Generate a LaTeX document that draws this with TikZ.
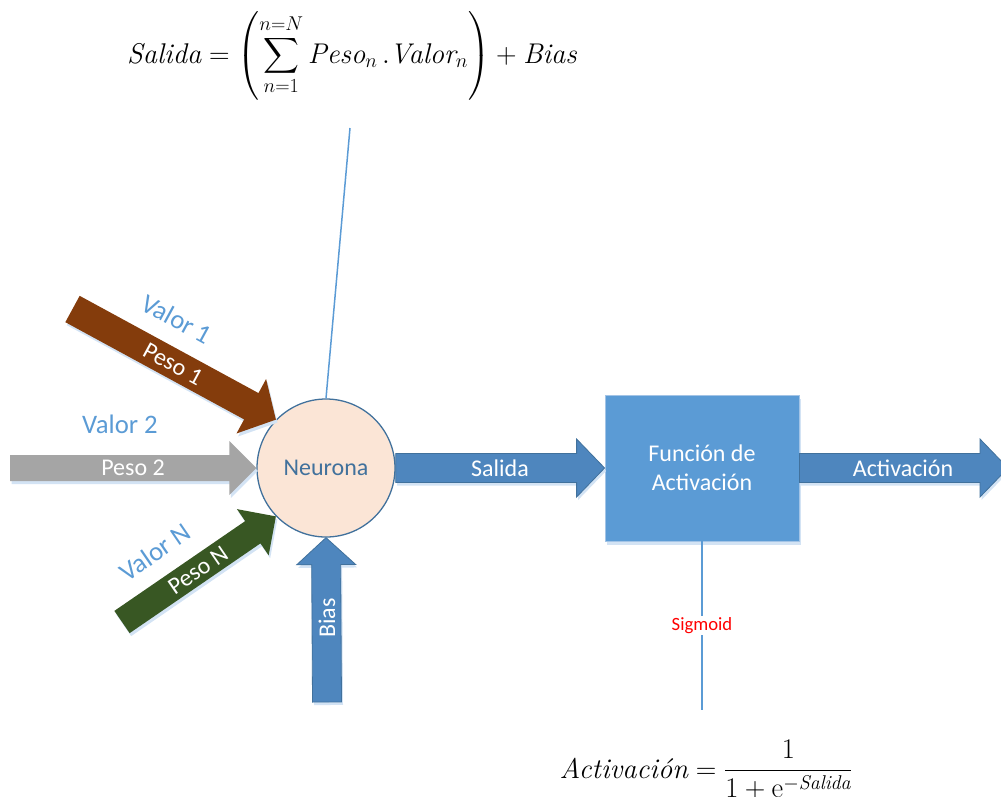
\RequirePackage{fix-cm}
\documentclass[tikz,border=0pt]{standalone}
\usepackage{amsmath}
\usepackage{fontspec}
\newfontfamily\calibri{Carlito}
\usetikzlibrary{calc,shadows}

\definecolor{brownarrow}{HTML}{843C0C}
\definecolor{grayarrow}{HTML}{A5A5A5}
\definecolor{greenarrow}{HTML}{385723}
\definecolor{bluearrow}{HTML}{4E86BE}
\definecolor{blueedge}{HTML}{41719C}
\definecolor{boxblue}{HTML}{5B9BD5}
\definecolor{boxedge}{HTML}{A3C4E6}
\definecolor{somafill}{HTML}{FBE5D6}
\definecolor{labelblue}{HTML}{5B9BD5}
\definecolor{shadowblue}{HTML}{D3E3F4}
\definecolor{sigred}{HTML}{FF0000}

% Block arrow: [style]{tail}{tip}{shaft half-width}{head half-width}{head length}
\newcommand\fatarrow[6][]{%
  \coordinate (fa-c) at ($(#3)!#6!(#2)$);
  \begin{scope}[transform canvas={shift={(1.5pt,-3pt)}}]
    \fill[shadowblue] ($(#2)!#4!90:(#3)$) -- ($(fa-c)!#4!90:(#3)$) -- ($(fa-c)!#5!90:(#3)$) -- (#3)
      -- ($(fa-c)!#5!-90:(#3)$) -- ($(fa-c)!#4!-90:(#3)$) -- ($(#2)!#4!-90:(#3)$) -- cycle;
  \end{scope}
  \path[#1] ($(#2)!#4!90:(#3)$) -- ($(fa-c)!#4!90:(#3)$) -- ($(fa-c)!#5!90:(#3)$) -- (#3)
      -- ($(fa-c)!#5!-90:(#3)$) -- ($(fa-c)!#4!-90:(#3)$) -- ($(#2)!#4!-90:(#3)$) -- cycle;
}

\begin{document}
\begin{tikzpicture}[x=1pt, y=1pt,
  soma/.style={circle, minimum size=138pt, inner sep=0pt, fill=somafill, draw=blueedge,
    line width=1.3pt, text=blueedge, font=\calibri\fontsize{24}{29}\selectfont},
  actbox/.style={rectangle, minimum width=194pt, minimum height=146pt, inner sep=0pt,
    fill=boxblue, draw=boxedge, line width=0.8pt, text=white, align=center,
    font=\calibri\fontsize{24}{29}\selectfont,
    drop shadow={shadow xshift=1.5pt, shadow yshift=-3.5pt, fill=shadowblue, opacity=1}},
  valor/.style={text=labelblue, inner sep=0pt, font=\calibri\fontsize{26.7}{32}\selectfont},
  peso/.style={text=white, inner sep=0pt, font=\calibri\fontsize{24}{29}\selectfont},
  guide/.style={draw=boxblue, line width=1.5pt},
  formula/.style={inner sep=0pt, font=\fontsize{28.5}{34}\selectfont},
  bluebody/.style={fill=bluearrow, draw=blueedge, line width=0.8pt},
]
\useasboundingbox (0,0) rectangle (1001,-796);

% formulas
\node[formula, anchor=base] (fsum) at (352,-63)
  {$\displaystyle \textit{Salida} = \Biggl(\sum_{n=1}^{n=N} \textit{Peso}_n\,.\textit{Valor}_n\Biggr) + \textit{Bias}$};
\node[formula, anchor=base] (fsig) at (706,-778)
  {$\textit{Activación} = \dfrac{1}{1+\mathrm{e}^{-\textit{Salida}}}$};

% neuron and activation block
\node[soma] (n) at (326,-468) {Neurona};
\node[actbox] (act) at (702,-468) {Función de\\Activación};

% guide lines
\coordinate (fsumfoot) at (350,-128);
\draw[guide] (fsumfoot) -- (n.north);
\coordinate (sigfoot) at (702,-710);
\draw[guide] (act.south) -- (sigfoot)
  node[pos=0.5, fill=white, inner sep=1.5pt, text=sigred, font=\calibri\fontsize{18.7}{22}\selectfont] (sig) {Sigmoid};

% input arrows
\coordinate (t1) at (72.5,-309);
\coordinate (t2) at (10,-468);
\coordinate (tN) at (122,-622);
\coordinate (tb) at (327,-702);
\coordinate (aend) at (1008,-468);

\fatarrow[fill=brownarrow]{t1}{n.136}{15pt}{31pt}{28pt}
\fatarrow[fill=grayarrow]{t2}{n.west}{13pt}{27pt}{27pt}
\fatarrow[fill=greenarrow]{tN}{n.224}{13.5pt}{28pt}{28pt}
\fatarrow[bluebody]{tb}{n.south}{14.5pt}{29.5pt}{27pt}
\fatarrow[bluebody]{n.east}{act.west}{14.5pt}{29pt}{28pt}
\fatarrow[bluebody]{act.east}{aend}{14.5pt}{29pt}{28pt}

% labels
\node[valor, rotate=-28.5] (v1) at (177,-319) {Valor 1};
\node[peso, rotate=-28.5] (p1) at (173,-364) {Peso 1};
\node[valor] (v2) at (120,-424) {Valor 2};
\node[peso] (p2) at (133,-468) {Peso 2};
\node[valor, rotate=34.5] (vN) at (155,-552) {Valor N};
\node[peso, rotate=34.5] (pN) at (198,-570) {Peso N};
\node[peso, rotate=90] (bias) at (327,-618) {Bias};
\node[peso] (sal) at (500,-468) {Salida};
\node[peso] (actout) at (903,-468) {Activación};
\end{tikzpicture}
\end{document}
